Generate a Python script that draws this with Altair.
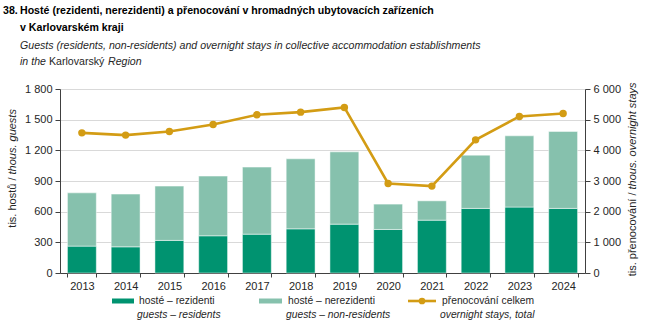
import altair as alt
import pandas as pd

years = [str(y) for y in range(2013, 2025)]
residents = [263, 256, 319, 364, 380, 432, 478, 426, 517, 632, 645, 632]
non_residents = [521, 516, 531, 584, 656, 685, 707, 248, 189, 521, 697, 753]
overnight = [4570, 4496, 4616, 4844, 5158, 5245, 5399, 2921, 2833, 4342, 5105, 5203]

series_names = ["hosté – rezidenti", "hosté – nerezidenti"]
series_colors = ["#009370", "#86C1AD"]
line_color = "#D39C14"

FONT = "Liberation Sans"
TXT = "#262626"
TS = 10.6  # title / subtitle font size

rows = []
for i, y in enumerate(years):
    rows.append({"year": y, "series": series_names[0], "value": residents[i], "ord": 0})
    rows.append({"year": y, "series": series_names[1], "value": non_residents[i], "ord": 1})
bars_df = pd.DataFrame(rows)
line_df = pd.DataFrame({"year": years, "stays": overnight})

W, H = 525, 184
OX, OY = 60, 89  # plot origin on page

xenc = alt.X("year:N", title=None,
             scale=alt.Scale(paddingInner=0.34, paddingOuter=0.17),
             axis=alt.Axis(labelAngle=0, labelFontSize=11, labelColor=TXT, labelFont=FONT,
                           tickBand="extent", tickSize=4, tickColor="#404040",
                           domainColor="#404040", labelPadding=3))

fmt = "replace(format(datum.value, ','), ',', ' ')"

bars = alt.Chart(bars_df).mark_bar(stroke="white", strokeWidth=0.8, strokeOpacity=0.6).encode(
    x=xenc,
    y=alt.Y("value:Q", stack="zero", title=None,
            scale=alt.Scale(domain=[0, 1800], nice=False),
            axis=alt.Axis(values=list(range(0, 1801, 300)), labelExpr=fmt, labelFontSize=11,
                          labelColor=TXT, labelFont=FONT, tickSize=5, labelPadding=3,
                          tickColor="#404040", domainColor="#404040",
                          grid=True, gridColor="#D9D9D9", gridWidth=1)),
    color=alt.Color("series:N", legend=None,
                    scale=alt.Scale(domain=series_names, range=series_colors)),
    order=alt.Order("ord:Q", sort="ascending"),
)

line = alt.Chart(line_df).mark_line(
    color=line_color, strokeWidth=2.6,
    point=alt.OverlayMarkDef(filled=True, size=55, color=line_color, opacity=1)
).encode(
    x=alt.X("year:N"),
    y=alt.Y("stays:Q", title=None,
            scale=alt.Scale(domain=[0, 6000], nice=False),
            axis=alt.Axis(orient="right", values=list(range(0, 6001, 1000)), labelExpr=fmt,
                          labelFontSize=11, labelColor=TXT, labelFont=FONT, tickSize=5,
                          labelPadding=3, tickColor="#404040", domainColor="#404040",
                          grid=False)),
)

one = pd.DataFrame({"k": [0]})


def txt(text, px, py, size=11, weight="normal", style="normal", align="left",
        baseline="middle", angle=0, color=TXT, dx=0):
    kw = dict(text=text, fontSize=size, fontWeight=weight, fontStyle=style, align=align,
              baseline=baseline, color=color, font=FONT)
    if angle:
        kw["angle"] = angle
    if dx:
        kw["dx"] = dx
    return alt.Chart(one).mark_text(**kw).encode(
        x=alt.value(px - OX), y=alt.value(py - OY))


texts = [
    # title
    txt("38.", 3, 11, size=TS, weight="bold", color="#000000"),
    txt("Hosté (rezidenti, nerezidenti) a přenocování v hromadných ubytovacích zařízeních",
        20, 11, size=TS, weight="bold", color="#000000"),
    txt("v Karlovarském kraji", 20, 28, size=TS, weight="bold", color="#000000"),
    txt("Guests (residents, non-residents) and overnight stays in collective accommodation establishments",
        20, 46, size=TS, style="italic"),
    txt("in the", 20, 62, size=TS, style="italic"),
    txt("Karlovarský", 49, 62, size=TS),
    txt("Region", 108, 62, size=TS, style="italic"),
    # left axis title
    txt("tis. hostů /", 13, 176, angle=270, align="right", dx=-1.5),
    txt("thous. guests", 13, 176, angle=270, align="left", style="italic", dx=1.5),
    # right axis title
    txt("tis. přenocování /", 633, 191, angle=270, align="right", dx=-1.5),
    txt("thous. overnight stays", 633, 191, angle=270, align="left", style="italic", dx=1.5),
    # legend texts
    txt("hosté – rezidenti", 139, 301, size=10.3),
    txt("guests – residents", 137, 315, size=10.3, style="italic"),
    txt("hosté – nerezidenti", 288, 301, size=10.3),
    txt("guests – non-residents", 286, 315, size=10.3, style="italic"),
    txt("přenocování celkem", 442, 301, size=10.3),
    txt("overnight stays, total", 440, 315, size=10.3, style="italic"),
]


def legend_rect(x1, x2, color):
    return alt.Chart(one).mark_rect(color=color).encode(
        x=alt.value(x1 - OX), x2=alt.value(x2 - OX),
        y=alt.value(298.5 - OY), y2=alt.value(303.5 - OY))


legend_marks = [
    legend_rect(112, 134, series_colors[0]),
    legend_rect(259, 282, series_colors[1]),
    alt.Chart(one).mark_rule(color=line_color, strokeWidth=2.6).encode(
        x=alt.value(408 - OX), x2=alt.value(436 - OX), y=alt.value(301 - OY)),
    alt.Chart(one).mark_point(filled=True, size=45, color=line_color, opacity=1).encode(
        x=alt.value(422 - OX), y=alt.value(301 - OY)),
]

main = alt.layer(bars, line).resolve_scale(y="independent")

chart = alt.layer(main, *texts, *legend_marks).properties(
    width=W, height=H,
    padding={"left": OX, "top": OY, "right": 652 - OX - W, "bottom": 327 - OY - H},
    autosize=alt.AutoSizeParams(type="none"),
).configure_view(stroke=None).configure(background="white")

chart.save("out.html", embed_options={"renderer": "svg", "actions": False})
